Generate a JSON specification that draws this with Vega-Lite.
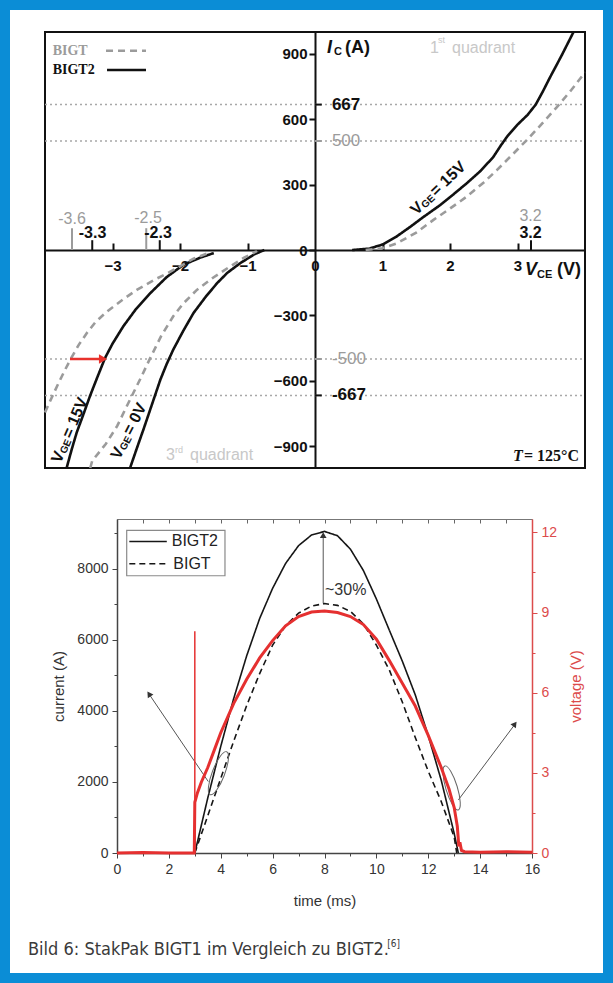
{
"$schema": "https://vega.github.io/schema/vega-lite/v6.json",
"width": 613, "height": 983,
"autosize": {"type": "none"},
"padding": 0,
"config": {
  "view": {"stroke": "#0b8dd6", "strokeWidth": 20, "fill": "#ffffff"},
  "font": "Liberation Sans",
  "axis": {"grid": false, "labelFlush": false, "labelOverlap": false}
},
"resolve": {"scale": {"x": "independent", "y": "independent", "color": "independent", "strokeDash": "independent"}, "axis": {"x": "independent", "y": "independent"}},
"layer": [
{
  "encoding": {
    "x": {"field": "v", "type": "quantitative", "scale": {"domain": [-4, 4], "range": [45, 585], "nice": false, "zero": false}, "axis": null},
    "y": {"field": "i", "type": "quantitative", "scale": {"domain": [-1000, 1000], "range": [468, 32], "nice": false, "zero": false}, "axis": null}
  },
  "resolve": {"axis": {"x": "independent", "y": "independent"}},
  "layer": [
    {
      "data": {"values": [{"v": -4, "v2": 4, "i": -1000, "i2": 1000}]},
      "mark": {"type": "rect", "filled": false, "color": "#111111", "strokeWidth": 2},
      "encoding": {
        "x": {"field": "v", "type": "quantitative", "scale": {"domain": [-4, 4], "range": [45, 585], "nice": false, "zero": false},
              "axis": {"orient": "bottom", "offset": -733, "values": [-3, -2, -1, 0, 1, 2, 3], "ticks": false, "tickSize": 0, "labelPadding": 8, "domainColor": "#111111", "domainWidth": 2, "labelFontSize": 15, "labelFontWeight": "bold", "labelColor": "#111111", "title": null}},
        "x2": {"field": "v2"},
        "y": {"field": "i", "type": "quantitative", "scale": {"domain": [-1000, 1000], "range": [468, 32], "nice": false, "zero": false},
              "axis": {"orient": "left", "offset": -315, "values": [-900, -600, -300, 0, 300, 600, 900], "tickSize": 6, "tickWidth": 2, "tickColor": "#111111", "domainColor": "#111111", "domainWidth": 2, "labelPadding": 2, "labelFontSize": 15, "labelFontWeight": "bold", "labelColor": "#111111", "title": null}},
        "y2": {"field": "i2"}
      }
    },
    {
      "data": {"values": [{"v": -4, "v2": 4, "i": 667}, {"v": -4, "v2": 4, "i": 500}, {"v": -4, "v2": 4, "i": -500}, {"v": -4, "v2": 4, "i": -667}]},
      "mark": {"type": "rule", "color": "#a8a8a8", "strokeDash": [2, 3], "strokeWidth": 1.5},
      "encoding": {
        "x": {"field": "v", "type": "quantitative", "scale": {"domain": [-4, 4], "range": [45, 585], "nice": false, "zero": false},
              "axis": {"orient": "top", "offset": -250, "values": [-3, -2, -1, 1, 2, 3], "domain": false, "labels": false, "ticks": true, "tickSize": 7, "tickWidth": 2, "tickColor": "#111111", "title": null}},
        "x2": {"field": "v2"}
      }
    },
    {
      "data": {"values": [
        {"s": "a", "m": "BIGT2", "v": 0.55, "i": 0}, {"s": "a", "m": "BIGT2", "v": 0.8, "i": 6}, {"s": "a", "m": "BIGT2", "v": 1.0, "i": 25}, {"s": "a", "m": "BIGT2", "v": 1.2, "i": 60}, {"s": "a", "m": "BIGT2", "v": 1.41, "i": 106}, {"s": "a", "m": "BIGT2", "v": 1.6, "i": 150}, {"s": "a", "m": "BIGT2", "v": 1.85, "i": 205}, {"s": "a", "m": "BIGT2", "v": 2.05, "i": 255}, {"s": "a", "m": "BIGT2", "v": 2.24, "i": 304}, {"s": "a", "m": "BIGT2", "v": 2.45, "i": 362}, {"s": "a", "m": "BIGT2", "v": 2.64, "i": 426}, {"s": "a", "m": "BIGT2", "v": 2.75, "i": 478}, {"s": "a", "m": "BIGT2", "v": 2.85, "i": 522}, {"s": "a", "m": "BIGT2", "v": 3.0, "i": 575}, {"s": "a", "m": "BIGT2", "v": 3.15, "i": 620}, {"s": "a", "m": "BIGT2", "v": 3.27, "i": 667}, {"s": "a", "m": "BIGT2", "v": 3.38, "i": 730}, {"s": "a", "m": "BIGT2", "v": 3.48, "i": 791}, {"s": "a", "m": "BIGT2", "v": 3.65, "i": 890}, {"s": "a", "m": "BIGT2", "v": 3.83, "i": 1000},
        {"s": "b", "m": "BIGT", "v": 0.75, "i": 0}, {"s": "b", "m": "BIGT", "v": 1.0, "i": 8}, {"s": "b", "m": "BIGT", "v": 1.21, "i": 30}, {"s": "b", "m": "BIGT", "v": 1.5, "i": 80}, {"s": "b", "m": "BIGT", "v": 1.75, "i": 137}, {"s": "b", "m": "BIGT", "v": 2.0, "i": 190}, {"s": "b", "m": "BIGT", "v": 2.24, "i": 243}, {"s": "b", "m": "BIGT", "v": 2.5, "i": 310}, {"s": "b", "m": "BIGT", "v": 2.69, "i": 365}, {"s": "b", "m": "BIGT", "v": 2.9, "i": 430}, {"s": "b", "m": "BIGT", "v": 3.13, "i": 502}, {"s": "b", "m": "BIGT", "v": 3.35, "i": 575}, {"s": "b", "m": "BIGT", "v": 3.58, "i": 654}, {"s": "b", "m": "BIGT", "v": 3.8, "i": 735}, {"s": "b", "m": "BIGT", "v": 4.0, "i": 815},
        {"s": "c", "m": "BIGT2", "v": -3.68, "i": -1000}, {"s": "c", "m": "BIGT2", "v": -3.6, "i": -910}, {"s": "c", "m": "BIGT2", "v": -3.53, "i": -837}, {"s": "c", "m": "BIGT2", "v": -3.45, "i": -770}, {"s": "c", "m": "BIGT2", "v": -3.33, "i": -667}, {"s": "c", "m": "BIGT2", "v": -3.22, "i": -580}, {"s": "c", "m": "BIGT2", "v": -3.11, "i": -495}, {"s": "c", "m": "BIGT2", "v": -3.0, "i": -430}, {"s": "c", "m": "BIGT2", "v": -2.84, "i": -350}, {"s": "c", "m": "BIGT2", "v": -2.65, "i": -270}, {"s": "c", "m": "BIGT2", "v": -2.44, "i": -198}, {"s": "c", "m": "BIGT2", "v": -2.2, "i": -125}, {"s": "c", "m": "BIGT2", "v": -1.95, "i": -68}, {"s": "c", "m": "BIGT2", "v": -1.7, "i": -35}, {"s": "c", "m": "BIGT2", "v": -1.5, "i": -14},
        {"s": "d", "m": "BIGT", "v": -4.0, "i": -745}, {"s": "d", "m": "BIGT", "v": -3.92, "i": -690}, {"s": "d", "m": "BIGT", "v": -3.82, "i": -624}, {"s": "d", "m": "BIGT", "v": -3.72, "i": -560}, {"s": "d", "m": "BIGT", "v": -3.62, "i": -500}, {"s": "d", "m": "BIGT", "v": -3.5, "i": -435}, {"s": "d", "m": "BIGT", "v": -3.38, "i": -381}, {"s": "d", "m": "BIGT", "v": -3.25, "i": -330}, {"s": "d", "m": "BIGT", "v": -3.08, "i": -282}, {"s": "d", "m": "BIGT", "v": -2.85, "i": -228}, {"s": "d", "m": "BIGT", "v": -2.64, "i": -183}, {"s": "d", "m": "BIGT", "v": -2.4, "i": -140}, {"s": "d", "m": "BIGT", "v": -2.19, "i": -107}, {"s": "d", "m": "BIGT", "v": -2.0, "i": -75}, {"s": "d", "m": "BIGT", "v": -1.8, "i": -40}, {"s": "d", "m": "BIGT", "v": -1.55, "i": -10},
        {"s": "e", "m": "BIGT2", "v": -2.74, "i": -1000}, {"s": "e", "m": "BIGT2", "v": -2.64, "i": -910}, {"s": "e", "m": "BIGT2", "v": -2.54, "i": -822}, {"s": "e", "m": "BIGT2", "v": -2.45, "i": -740}, {"s": "e", "m": "BIGT2", "v": -2.37, "i": -667}, {"s": "e", "m": "BIGT2", "v": -2.29, "i": -594}, {"s": "e", "m": "BIGT2", "v": -2.2, "i": -525}, {"s": "e", "m": "BIGT2", "v": -2.1, "i": -457}, {"s": "e", "m": "BIGT2", "v": -1.95, "i": -370}, {"s": "e", "m": "BIGT2", "v": -1.8, "i": -289}, {"s": "e", "m": "BIGT2", "v": -1.62, "i": -215}, {"s": "e", "m": "BIGT2", "v": -1.45, "i": -152}, {"s": "e", "m": "BIGT2", "v": -1.3, "i": -105}, {"s": "e", "m": "BIGT2", "v": -1.11, "i": -61}, {"s": "e", "m": "BIGT2", "v": -0.9, "i": -20}, {"s": "e", "m": "BIGT2", "v": -0.75, "i": 0},
        {"s": "f", "m": "BIGT", "v": -3.33, "i": -1000}, {"s": "f", "m": "BIGT", "v": -3.3, "i": -967}, {"s": "f", "m": "BIGT", "v": -3.1, "i": -890}, {"s": "f", "m": "BIGT", "v": -2.93, "i": -807}, {"s": "f", "m": "BIGT", "v": -2.81, "i": -730}, {"s": "f", "m": "BIGT", "v": -2.69, "i": -655}, {"s": "f", "m": "BIGT", "v": -2.57, "i": -580}, {"s": "f", "m": "BIGT", "v": -2.44, "i": -495}, {"s": "f", "m": "BIGT", "v": -2.28, "i": -395}, {"s": "f", "m": "BIGT", "v": -2.1, "i": -304}, {"s": "f", "m": "BIGT", "v": -1.95, "i": -245}, {"s": "f", "m": "BIGT", "v": -1.75, "i": -183}, {"s": "f", "m": "BIGT", "v": -1.5, "i": -125}, {"s": "f", "m": "BIGT", "v": -1.26, "i": -76}, {"s": "f", "m": "BIGT", "v": -1.05, "i": -35}, {"s": "f", "m": "BIGT", "v": -0.86, "i": -5}
      ]},
      "mark": {"type": "line", "strokeWidth": 2.6},
      "encoding": {
        "detail": {"field": "s", "type": "nominal"},
        "color": {"field": "m", "type": "nominal", "scale": {"domain": ["BIGT", "BIGT2"], "range": ["#9b9b9b", "#111111"]}, "legend": null},
        "strokeDash": {"field": "m", "type": "nominal", "scale": {"domain": ["BIGT", "BIGT2"], "range": [[7, 5], [1, 0]]}, "legend": null}
      }
    },
    {
      "data": {"values": [{"v": -3.6, "i": 0, "i2": 100, "m": "BIGT"}, {"v": -2.5, "i": 0, "i2": 100, "m": "BIGT"}, {"v": -3.3, "i": 0, "i2": 45, "m": "BIGT2"}, {"v": -2.3, "i": 0, "i2": 45, "m": "BIGT2"}, {"v": 3.2, "i": 0, "i2": 45, "m": "BIGT2"}]},
      "mark": {"type": "rule", "strokeWidth": 2},
      "encoding": {
        "y2": {"field": "i2"},
        "color": {"field": "m", "type": "nominal", "scale": {"domain": ["BIGT", "BIGT2"], "range": ["#9b9b9b", "#111111"]}, "legend": null}
      }
    },
    {
      "data": {"values": [{"v": 0, "v2": 0.1, "i": 667, "m": "BIGT2"}, {"v": 0, "v2": 0.1, "i": 500, "m": "BIGT"}, {"v": 0, "v2": 0.1, "i": -500, "m": "BIGT"}, {"v": 0, "v2": 0.1, "i": -667, "m": "BIGT2"}]},
      "mark": {"type": "rule", "strokeWidth": 2},
      "encoding": {
        "x2": {"field": "v2"},
        "color": {"field": "m", "type": "nominal", "scale": {"domain": ["BIGT", "BIGT2"], "range": ["#9b9b9b", "#111111"]}, "legend": null}
      }
    },
    {
      "data": {"values": [{"v": -3.6, "i": 140, "label": "-3.6"}, {"v": -2.474, "i": 149, "label": "-2.5"}, {"v": 3.193, "i": 154, "label": "3.2"}]},
      "mark": {"type": "text", "fontSize": 16, "color": "#9b9b9b", "align": "center", "baseline": "middle"},
      "encoding": {"text": {"field": "label"}}
    },
    {
      "data": {"values": [{"v": -3.296, "i": 80, "label": "-3.3"}, {"v": -2.326, "i": 80, "label": "-2.3"}, {"v": 3.193, "i": 80, "label": "3.2"}]},
      "mark": {"type": "text", "fontSize": 16, "fontWeight": "bold", "color": "#111111", "align": "center", "baseline": "middle"},
      "encoding": {"text": {"field": "label"}}
    },
    {
      "data": {"values": [{"v": 0.25, "i": 500, "label": "500"}, {"v": 0.25, "i": -500, "label": "-500"}]},
      "mark": {"type": "text", "fontSize": 17, "color": "#9b9b9b", "align": "left", "baseline": "middle"},
      "encoding": {"text": {"field": "label"}}
    },
    {
      "data": {"values": [{"v": 0.25, "i": 667, "label": "667"}, {"v": 0.25, "i": -667, "label": "-667"}]},
      "mark": {"type": "text", "fontSize": 17, "fontWeight": "bold", "color": "#111111", "align": "left", "baseline": "middle"},
      "encoding": {"text": {"field": "label"}}
    },
    {
      "data": {"values": [{"v": -3.886, "i": 894, "label": "BIGT", "m": "BIGT"}, {"v": -3.886, "i": 807, "label": "BIGT2", "m": "BIGT2"}]},
      "mark": {"type": "text", "font": "Liberation Serif", "fontSize": 14, "fontWeight": "bold", "align": "left", "baseline": "alphabetic"},
      "encoding": {
        "text": {"field": "label"},
        "color": {"field": "m", "type": "nominal", "scale": {"domain": ["BIGT", "BIGT2"], "range": ["#9b9b9b", "#111111"]}, "legend": null}
      }
    },
    {
      "data": {"values": [{"v": -3.096, "v2": -2.504, "i": 914, "m": "BIGT"}, {"v": -3.081, "v2": -2.504, "i": 826, "m": "BIGT2"}]},
      "mark": {"type": "rule", "strokeWidth": 2.6},
      "encoding": {
        "x2": {"field": "v2"},
        "color": {"field": "m", "type": "nominal", "scale": {"domain": ["BIGT", "BIGT2"], "range": ["#9b9b9b", "#111111"]}, "legend": null},
        "strokeDash": {"field": "m", "type": "nominal", "scale": {"domain": ["BIGT", "BIGT2"], "range": [[7, 5], [1, 0]]}, "legend": null}
      }
    },
    {
      "data": {"values": [{"v": 0.178, "i": 904, "label": "I"}, {"v": 3.111, "i": -115, "label": "V"}]},
      "mark": {"type": "text", "fontSize": 18, "fontWeight": "bold", "fontStyle": "italic", "color": "#111111", "align": "left", "baseline": "alphabetic"},
      "encoding": {"text": {"field": "label"}}
    },
    {
      "data": {"values": [{"v": 0.444, "i": 904, "label": "(A)"}, {"v": 3.585, "i": -115, "label": "(V)"}]},
      "mark": {"type": "text", "fontSize": 18, "fontWeight": "bold", "color": "#111111", "align": "left", "baseline": "alphabetic"},
      "encoding": {"text": {"field": "label"}}
    },
    {
      "data": {"values": [{"v": 0.28, "i": 893, "label": "C"}, {"v": 3.289, "i": -128, "label": "CE"}]},
      "mark": {"type": "text", "fontSize": 11, "fontWeight": "bold", "color": "#111111", "align": "left", "baseline": "alphabetic"},
      "encoding": {"text": {"field": "label"}}
    },
    {
      "data": {"values": [{"v": 1.704, "i": 904, "label": "1"}, {"v": 2.03, "i": 904, "label": "quadrant"}, {"v": -2.207, "i": -963, "label": "3"}, {"v": -1.852, "i": -963, "label": "quadrant"}]},
      "mark": {"type": "text", "fontSize": 16, "color": "#c8c8c8", "align": "left", "baseline": "alphabetic"},
      "encoding": {"text": {"field": "label"}}
    },
    {
      "data": {"values": [{"v": 1.822, "i": 950, "label": "st"}, {"v": -2.074, "i": -931, "label": "rd"}]},
      "mark": {"type": "text", "fontSize": 9, "color": "#c8c8c8", "align": "left", "baseline": "alphabetic"},
      "encoding": {"text": {"field": "label"}}
    },
    {
      "data": {"values": [{"v": 2.933, "i": -968, "label": "T"}]},
      "mark": {"type": "text", "font": "Liberation Serif", "fontSize": 16, "fontWeight": "bold", "fontStyle": "italic", "color": "#111111", "align": "left", "baseline": "alphabetic"},
      "encoding": {"text": {"field": "label"}}
    },
    {
      "data": {"values": [{"v": 3.095, "i": -968, "label": "= 125°C"}]},
      "mark": {"type": "text", "font": "Liberation Serif", "fontSize": 16, "fontWeight": "bold", "color": "#111111", "align": "left", "baseline": "alphabetic"},
      "encoding": {"text": {"field": "label"}}
    },
    {
      "data": {"values": [{"v": -3.837, "i": -972, "label": "V"}, {"v": -3.679, "i": -859, "label": "= 15V"}]},
      "mark": {"type": "text", "fontSize": 16, "fontWeight": "bold", "color": "#111111", "align": "left", "baseline": "middle", "angle": 293.4},
      "encoding": {"text": {"field": "label"}}
    },
    {
      "data": {"values": [{"v": -3.732, "i": -932, "label": "GE"}]},
      "mark": {"type": "text", "fontSize": 10, "fontWeight": "bold", "color": "#111111", "align": "left", "baseline": "middle", "angle": 293.4},
      "encoding": {"text": {"field": "label"}}
    },
    {
      "data": {"values": [{"v": -2.963, "i": -954, "label": "V"}, {"v": -2.781, "i": -844, "label": "= 0V"}]},
      "mark": {"type": "text", "fontSize": 16, "fontWeight": "bold", "color": "#111111", "align": "left", "baseline": "middle", "angle": 297.2},
      "encoding": {"text": {"field": "label"}}
    },
    {
      "data": {"values": [{"v": -2.849, "i": -916, "label": "GE"}]},
      "mark": {"type": "text", "fontSize": 10, "fontWeight": "bold", "color": "#111111", "align": "left", "baseline": "middle", "angle": 297.2},
      "encoding": {"text": {"field": "label"}}
    },
    {
      "data": {"values": [{"v": 1.452, "i": 174, "label": "V"}, {"v": 1.742, "i": 260, "label": "= 15V"}]},
      "mark": {"type": "text", "fontSize": 16, "fontWeight": "bold", "color": "#111111", "align": "left", "baseline": "middle", "angle": 316.5},
      "encoding": {"text": {"field": "label"}}
    },
    {
      "data": {"values": [{"v": 1.6, "i": 199, "label": "GE"}]},
      "mark": {"type": "text", "fontSize": 10, "fontWeight": "bold", "color": "#111111", "align": "left", "baseline": "middle", "angle": 316.5},
      "encoding": {"text": {"field": "label"}}
    },
    {
      "data": {"values": [{"v": -3.63, "v2": -3.17, "i": -500}]},
      "mark": {"type": "rule", "color": "#e8322c", "strokeWidth": 2.5},
      "encoding": {"x2": {"field": "v2"}}
    },
    {
      "data": {"values": [{"v": -3.14, "i": -500}]},
      "mark": {"type": "point", "shape": "triangle-right", "filled": true, "color": "#e8322c", "size": 90, "opacity": 1},
      "encoding": {}
    }
  ]
},
{
  "encoding": {
    "x": {"field": "t", "type": "quantitative", "scale": {"domain": [0, 16], "range": [117, 532], "nice": false, "zero": false}, "axis": null}
  },
  "resolve": {"scale": {"y": "independent"}, "axis": {"x": "independent", "y": "independent"}},
  "layer": [
    {
      "encoding": {
        "y": {"field": "a", "type": "quantitative", "scale": {"domain": [0, 9400], "range": [853, 519], "nice": false, "zero": false}, "axis": null}
      },
      "resolve": {"axis": {"x": "independent", "y": "independent"}},
      "layer": [
        {
          "data": {"values": [
            {"m": "BIGT2", "t": 3.0, "a": 0}, {"m": "BIGT2", "t": 3.5, "a": 1550}, {"m": "BIGT2", "t": 4.0, "a": 3000}, {"m": "BIGT2", "t": 4.5, "a": 4350}, {"m": "BIGT2", "t": 5.0, "a": 5550}, {"m": "BIGT2", "t": 5.5, "a": 6600}, {"m": "BIGT2", "t": 6.0, "a": 7450}, {"m": "BIGT2", "t": 6.5, "a": 8150}, {"m": "BIGT2", "t": 7.0, "a": 8650}, {"m": "BIGT2", "t": 7.5, "a": 8950}, {"m": "BIGT2", "t": 8.0, "a": 9050}, {"m": "BIGT2", "t": 8.5, "a": 8930}, {"m": "BIGT2", "t": 9.0, "a": 8550}, {"m": "BIGT2", "t": 9.5, "a": 7950}, {"m": "BIGT2", "t": 10.0, "a": 7150}, {"m": "BIGT2", "t": 10.5, "a": 6270}, {"m": "BIGT2", "t": 11.0, "a": 5400}, {"m": "BIGT2", "t": 11.5, "a": 4450}, {"m": "BIGT2", "t": 12.0, "a": 3300}, {"m": "BIGT2", "t": 12.5, "a": 2050}, {"m": "BIGT2", "t": 13.0, "a": 550}, {"m": "BIGT2", "t": 13.16, "a": 0},
            {"m": "BIGT", "t": 3.0, "a": 0}, {"m": "BIGT", "t": 3.5, "a": 1050}, {"m": "BIGT", "t": 4.0, "a": 2100}, {"m": "BIGT", "t": 4.5, "a": 3150}, {"m": "BIGT", "t": 5.0, "a": 4150}, {"m": "BIGT", "t": 5.5, "a": 5050}, {"m": "BIGT", "t": 6.0, "a": 5850}, {"m": "BIGT", "t": 6.5, "a": 6400}, {"m": "BIGT", "t": 7.0, "a": 6750}, {"m": "BIGT", "t": 7.5, "a": 6950}, {"m": "BIGT", "t": 8.0, "a": 7020}, {"m": "BIGT", "t": 8.5, "a": 6970}, {"m": "BIGT", "t": 9.0, "a": 6800}, {"m": "BIGT", "t": 9.5, "a": 6450}, {"m": "BIGT", "t": 10.0, "a": 5850}, {"m": "BIGT", "t": 10.5, "a": 5150}, {"m": "BIGT", "t": 11.0, "a": 4250}, {"m": "BIGT", "t": 11.5, "a": 3250}, {"m": "BIGT", "t": 12.0, "a": 2300}, {"m": "BIGT", "t": 12.5, "a": 1450}, {"m": "BIGT", "t": 13.0, "a": 450}, {"m": "BIGT", "t": 13.1, "a": 0}
          ]},
          "mark": {"type": "line", "strokeWidth": 1.6},
          "encoding": {
            "x": {"field": "t", "type": "quantitative", "scale": {"domain": [0, 16], "range": [117, 532], "nice": false, "zero": false},
                  "axis": {"orient": "bottom", "offset": -130, "values": [0, 1, 2, 3, 4, 5, 6, 7, 8, 9, 10, 11, 12, 13, 14, 15, 16], "labelExpr": "datum.value % 2 == 0 ? datum.label : ''", "tickSize": {"condition": {"test": "datum.value % 2 != 0", "value": 3}, "value": 5}, "tickColor": "#444444", "domainColor": "#444444", "domainWidth": 1.5, "labelColor": "#333333", "labelFontSize": 14, "labelPadding": 4, "title": "time (ms)", "titleFontSize": 15, "titleFontWeight": "normal", "titleColor": "#333333", "titlePadding": 17}},
            "y": {"field": "a", "type": "quantitative", "scale": {"domain": [0, 9400], "range": [853, 519], "nice": false, "zero": false},
                  "axis": {"orient": "left", "offset": -117, "values": [0, 1000, 2000, 3000, 4000, 5000, 6000, 7000, 8000, 9000], "format": "d", "labelExpr": "datum.value % 2000 == 0 ? datum.label : ''", "tickSize": {"condition": {"test": "datum.value % 2000 != 0", "value": 3}, "value": 5}, "tickColor": "#444444", "domainColor": "#444444", "domainWidth": 1.5, "labelColor": "#333333", "labelFontSize": 14, "labelPadding": 4, "title": "current (A)", "titleFontSize": 15, "titleFontWeight": "normal", "titleColor": "#333333", "titlePadding": 10}},
            "color": {"field": "m", "type": "nominal", "scale": {"domain": ["BIGT2", "BIGT"], "range": ["#161616", "#161616"]}, "legend": null},
            "strokeDash": {"field": "m", "type": "nominal", "scale": {"domain": ["BIGT2", "BIGT"], "range": [[1, 0], [6, 4]]}, "legend": null}
          }
        },
        {
          "data": {"values": [{"t": 0.374, "t2": 4.163, "a": 7803, "a2": 9079}]},
          "mark": {"type": "rect", "filled": false, "color": "#8a8a8a", "strokeWidth": 1.2},
          "encoding": {
            "x": {"field": "t", "type": "quantitative", "scale": {"domain": [0, 16], "range": [117, 532], "nice": false, "zero": false},
                  "axis": {"orient": "bottom", "offset": -464, "values": [0, 1, 2, 3, 4, 5, 6, 7, 8, 9, 10, 11, 12, 13, 14, 15, 16], "tickSize": 4, "tickColor": "#666666", "domainColor": "#777777", "domainWidth": 1.2, "labels": false, "title": null}},
            "x2": {"field": "t2"},
            "y2": {"field": "a2"}
          }
        },
        {
          "data": {"values": [{"m": "BIGT2", "t": 0.475, "t2": 1.92, "a": 8767}, {"m": "BIGT", "t": 0.475, "t2": 1.96, "a": 8141}]},
          "mark": {"type": "rule", "strokeWidth": 1.6},
          "encoding": {
            "x2": {"field": "t2"},
            "color": {"field": "m", "type": "nominal", "scale": {"domain": ["BIGT2", "BIGT"], "range": ["#161616", "#161616"]}, "legend": null},
            "strokeDash": {"field": "m", "type": "nominal", "scale": {"domain": ["BIGT2", "BIGT"], "range": [[1, 0], [6, 4]]}, "legend": null}
          }
        },
        {
          "data": {"values": [{"t": 2.11, "a": 8767, "label": "BIGT2"}, {"t": 2.17, "a": 8141, "label": "BIGT"}]},
          "mark": {"type": "text", "fontSize": 16, "color": "#222222", "align": "left", "baseline": "middle"},
          "encoding": {"text": {"field": "label"}}
        },
        {
          "data": {"values": [{"t": 7.95, "a": 7030, "t2": 7.95, "a2": 8940}, {"t": 3.52, "a": 2010, "t2": 1.22, "a2": 4490}, {"t": 13.16, "a": 1493, "t2": 15.36, "a2": 3640}]},
          "mark": {"type": "rule", "color": "#555555", "strokeWidth": 1},
          "encoding": {"x2": {"field": "t2"}, "y2": {"field": "a2"}}
        },
        {
          "data": {"values": [{"t": 7.95, "a": 8944}]},
          "mark": {"type": "point", "shape": "triangle-up", "filled": true, "color": "#333333", "size": 45, "opacity": 1},
          "encoding": {}
        },
        {
          "data": {"values": [{"t": 1.234, "a": 4475}]},
          "mark": {"type": "point", "shape": "triangle-up", "filled": true, "color": "#333333", "size": 45, "opacity": 1, "angle": 326},
          "encoding": {}
        },
        {
          "data": {"values": [{"t": 15.34, "a": 3631}]},
          "mark": {"type": "point", "shape": "triangle-up", "filled": true, "color": "#333333", "size": 45, "opacity": 1, "angle": 36.7},
          "encoding": {}
        },
        {
          "data": {"values": [{"t": 3.91, "a": 2245}]},
          "mark": {"type": "point", "shape": "M0,-1A0.27,1,0,1,1,0,1A0.27,1,0,1,1,0,-1Z", "filled": false, "color": "#666666", "strokeWidth": 1, "size": 2116, "opacity": 1, "angle": 21},
          "encoding": {}
        },
        {
          "data": {"values": [{"t": 12.9, "a": 1831}]},
          "mark": {"type": "point", "shape": "M0,-1A0.25,1,0,1,1,0,1A0.25,1,0,1,1,0,-1Z", "filled": false, "color": "#666666", "strokeWidth": 1, "size": 2116, "opacity": 1, "angle": 343},
          "encoding": {}
        },
        {
          "data": {"values": [{"t": 8.02, "a": 7409, "label": "~30%"}]},
          "mark": {"type": "text", "fontSize": 16, "color": "#333333", "align": "left", "baseline": "middle"},
          "encoding": {"text": {"field": "label"}}
        },
        {
          "data": {"values": [{"t": -3.431, "a": -2871, "label": "Bild 6: StakPak BIGT1 im Vergleich zu BIGT2."}]},
          "mark": {"type": "text", "font": "Liberation Sans Narrow, DejaVu Sans Condensed, Liberation Sans", "fontSize": 18, "color": "#3a3a3a", "align": "left", "baseline": "alphabetic"},
          "encoding": {"text": {"field": "label"}}
        },
        {
          "data": {"values": [{"t": 10.42, "a": -2645, "label": "[6]"}]},
          "mark": {"type": "text", "font": "Liberation Sans Narrow, DejaVu Sans Condensed, Liberation Sans", "fontSize": 10, "color": "#3a3a3a", "align": "left", "baseline": "alphabetic"},
          "encoding": {"text": {"field": "label"}}
        }
      ]
    },
    {
      "encoding": {
        "y": {"field": "u", "type": "quantitative", "scale": {"domain": [0, 12.5], "range": [853, 519], "nice": false, "zero": false}, "axis": null}
      },
      "resolve": {"axis": {"y": "independent"}},
      "layer": [
        {
          "data": {"values": [
            {"t": 0, "u": 0}, {"t": 1, "u": 0.02}, {"t": 2, "u": 0}, {"t": 2.98, "u": 0}, {"t": 3.0, "u": 1.9}, {"t": 3.1, "u": 2.25}, {"t": 3.25, "u": 2.65}, {"t": 3.5, "u": 3.2}, {"t": 3.75, "u": 3.85}, {"t": 4.0, "u": 4.5}, {"t": 4.5, "u": 5.6}, {"t": 5.0, "u": 6.5}, {"t": 5.5, "u": 7.3}, {"t": 6.0, "u": 7.95}, {"t": 6.5, "u": 8.5}, {"t": 7.0, "u": 8.85}, {"t": 7.5, "u": 9.02}, {"t": 8.0, "u": 9.06}, {"t": 8.5, "u": 9.0}, {"t": 9.0, "u": 8.85}, {"t": 9.5, "u": 8.55}, {"t": 10.0, "u": 8.0}, {"t": 10.5, "u": 7.2}, {"t": 11.0, "u": 6.35}, {"t": 11.5, "u": 5.5}, {"t": 12.0, "u": 4.4}, {"t": 12.5, "u": 3.2}, {"t": 12.8, "u": 2.4}, {"t": 13.0, "u": 1.7}, {"t": 13.12, "u": 1.0}, {"t": 13.18, "u": 0.25}, {"t": 13.22, "u": 0.4}, {"t": 13.28, "u": 0.1}, {"t": 13.4, "u": 0.05}, {"t": 14, "u": 0.03}, {"t": 15, "u": 0.05}, {"t": 16, "u": 0.03}
          ]},
          "mark": {"type": "line", "color": "#e53030", "strokeWidth": 3},
          "encoding": {
            "y": {"field": "u", "type": "quantitative", "scale": {"domain": [0, 12.5], "range": [853, 519], "nice": false, "zero": false},
                  "axis": {"orient": "right", "offset": -81, "values": [0, 1.5, 3, 4.5, 6, 7.5, 9, 10.5, 12], "labelExpr": "datum.value % 3 == 0 ? datum.label : ''", "tickSize": {"condition": {"test": "datum.value % 3 != 0", "value": 3}, "value": 5}, "tickColor": "#dc4b4b", "domainColor": "#dc4b4b", "domainWidth": 1.5, "labelColor": "#dc4b4b", "labelFontSize": 14, "labelPadding": 4, "title": "voltage (V)", "titleAngle": 270, "titleBaseline": "top", "titleFontSize": 15, "titleFontWeight": "normal", "titleColor": "#dc4b4b", "titlePadding": 12}}
          }
        },
        {
          "data": {"values": [{"t": 3.0, "u": 0, "u2": 8.3}]},
          "mark": {"type": "rule", "color": "#e53030", "strokeWidth": 1.5},
          "encoding": {"y2": {"field": "u2"}}
        }
      ]
    }
  ]
}
]
}
